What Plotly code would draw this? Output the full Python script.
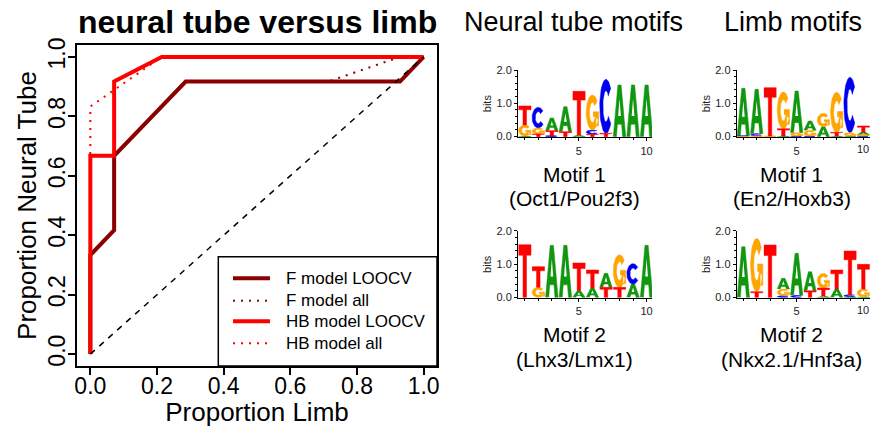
import numpy as np
import plotly.graph_objects as go

# ---------------- ROC data ----------------
f_loocv_x = [0, 0, 0.0714, 0.0714, 0.286, 0.929, 1.0]
f_loocv_y = [0, 0.333, 0.417, 0.667, 0.917, 0.917, 1.0]
f_all_x = [0, 0, 0.0714, 0.0714, 0.286, 0.714, 0.929, 1.0]
f_all_y = [0, 0.333, 0.417, 0.667, 0.917, 0.917, 1.0, 1.0]
hb_loocv_x = [0, 0, 0.0714, 0.0714, 0.214, 1.0]
hb_loocv_y = [0, 0.667, 0.667, 0.917, 1.0, 1.0]
hb_all_x = [0, 0, 0.214, 1.0]
hb_all_y = [0, 0.833, 1.0, 1.0]
chance = [0, 1]

x_ticks = [0, 0.2, 0.4, 0.6, 0.8, 1.0]
x_ticklabels = ["0.0", "0.2", "0.4", "0.6", "0.8", "1.0"]
legend_names = ["F model LOOCV", "F model all", "HB model LOOCV", "HB model all"]

# ---------------- motif logo data (bits per letter, positions 1..10) -------------
positions = list(range(1, 11))
nt1_A = [0.02, 0.0, 0.38, 0.75, 0.04, 0.0, 0.0, 1.55, 1.55, 1.55]
nt1_C = [0.0, 0.62, 0.03, 0.0, 0.0, 0.13, 1.62, 0.0, 0.0, 0.0]
nt1_G = [0.33, 0.18, 0.0, 0.0, 0.0, 1.05, 0.0, 0.0, 0.0, 0.0]
nt1_T = [0.57, 0.08, 0.15, 0.15, 1.32, 0.07, 0.10, 0.0, 0.0, 0.0]

limb1_A = [1.42, 1.33, 0.0, 0.02, 1.25, 0.28, 0.30, 0.02, 0.02, 0.08]
limb1_C = [0.02, 0.07, 0.0, 0.0, 0.02, 0.02, 0.0, 0.0, 1.66, 0.02]
limb1_G = [0.01, 0.02, 0.02, 1.10, 0.10, 0.17, 0.40, 1.20, 0.10, 0.04]
limb1_T = [0.0, 0.0, 1.45, 0.22, 0.0, 0.0, 0.0, 0.11, 0.0, 0.18]

nt2_A = [0.0, 0.0, 1.56, 1.56, 0.20, 0.28, 0.42, 0.0, 0.40, 1.56]
nt2_C = [0.0, 0.0, 0.0, 0.0, 0.0, 0.0, 0.0, 0.0, 0.61, 0.0]
nt2_G = [0.0, 0.30, 0.0, 0.0, 0.0, 0.0, 0.0, 0.98, 0.0, 0.0]
nt2_T = [1.58, 0.62, 0.0, 0.0, 0.83, 0.54, 0.30, 0.30, 0.0, 0.0]

limb2_A = [1.52, 0.0, 0.0, 0.32, 1.26, 0.57, 0.03, 0.25, 0.02, 0.02]
limb2_C = [0.0, 0.0, 0.0, 0.05, 0.06, 0.0, 0.0, 0.0, 0.06, 0.0]
limb2_G = [0.0, 1.60, 0.0, 0.20, 0.0, 0.0, 0.44, 0.0, 0.0, 0.23]
limb2_T = [0.0, 0.17, 1.57, 0.0, 0.0, 0.20, 0.25, 0.57, 1.31, 0.74]

motif_titles = ["Motif 1", "Motif 1", "Motif 2", "Motif 2"]
motif_names = ["(Oct1/Pou2f3)", "(En2/Hoxb3)", "(Lhx3/Lmx1)", "(Nkx2.1/Hnf3a)"]
column_titles = ["Neural tube motifs", "Limb motifs"]
logo_xtick_vals = [5, 10]
logo_xtick_text = ["5", "10"]

# ---------------- styling ----------------
W, H = 870, 427
FONT = "Liberation Sans, Arial, Helvetica, sans-serif"
DARKRED = "#8b0000"
RED = "#ff0000"
LETTER_COLORS = {"A": "#10960f", "C": "#0000f0", "G": "#ffa500", "T": "#ff0000"}


def px(x):
    return x / W


def py(y):
    return 1 - y / H


# ---------------- glyph outlines (unit box) ----------------
def arc(rx, ry, a0, a1, n=40):
    t = np.radians(np.linspace(a0, a1, n))
    return list(0.5 + rx * np.cos(t)), list(0.5 + ry * np.sin(t))


def glyph_unit(letter):
    polys = []
    holes = []
    if letter == "T":
        polys.append(([0, 1, 1, 0.64, 0.64, 0.36, 0.36, 0],
                      [1, 1, 0.80, 0.80, 0, 0, 0.80, 0.80]))
    elif letter == "A":
        polys.append(([0, 0.37, 0.63, 1, 0.75, 0.67, 0.33, 0.25],
                      [0, 1, 1, 0, 0, 0.24, 0.24, 0]))
        holes.append(([0.39, 0.61, 0.5], [0.40, 0.40, 0.74]))
    elif letter in ("C", "G"):
        end = 320 if letter == "C" else 335
        ox, oy = arc(0.5, 0.5, 40, end)
        ix, iy = arc(0.25, 0.29, end, 40)
        polys.append((ox + ix, oy + iy))
        if letter == "G":
            polys.append(([0.55, 1.0, 1.0, 0.78, 0.78, 0.55],
                          [0.52, 0.52, 0.12, 0.12, 0.38, 0.38]))
    return polys, holes


def logo_traces(A, C, G, T, xa, ya):
    data = {"A": A, "C": C, "G": G, "T": T}
    xs = {k: [] for k in "ACGT"}
    ys = {k: [] for k in "ACGT"}
    hx, hy = [], []
    w = 0.92
    for i, pos in enumerate(positions):
        stack = sorted("ACGT", key=lambda k: data[k][i])
        base = 0.0
        for k in stack:
            h = data[k][i]
            if h <= 0:
                continue
            polys, holes = glyph_unit(k)
            for (ux, uy) in polys:
                xs[k] += [pos - w / 2 + u * w for u in ux] + [None]
                ys[k] += [base + v * h for v in uy] + [None]
            for (ux, uy) in holes:
                hx += [pos - w / 2 + u * w for u in ux] + [None]
                hy += [base + v * h for v in uy] + [None]
            base += h
    traces = []
    for k in "ACGT":
        traces.append(go.Scatter(x=xs[k], y=ys[k], mode="lines", fill="toself",
                                 fillcolor=LETTER_COLORS[k],
                                 line=dict(color=LETTER_COLORS[k], width=0.5),
                                 hoverinfo="skip", showlegend=False, name=k,
                                 xaxis=xa, yaxis=ya))
    traces.append(go.Scatter(x=hx, y=hy, mode="lines", fill="toself",
                             fillcolor="white", line=dict(color="white", width=0),
                             hoverinfo="skip", showlegend=False,
                             xaxis=xa, yaxis=ya))
    return traces


fig = go.Figure()

# ROC lines
fig.add_trace(go.Scatter(x=f_loocv_x, y=f_loocv_y, mode="lines", name=legend_names[0],
                         line=dict(color=DARKRED, width=4), showlegend=False))
fig.add_trace(go.Scatter(x=f_all_x, y=f_all_y, mode="lines", name=legend_names[1],
                         line=dict(color=DARKRED, width=2, dash="2px,6px"), showlegend=False))
fig.add_trace(go.Scatter(x=hb_loocv_x, y=hb_loocv_y, mode="lines", name=legend_names[2],
                         line=dict(color=RED, width=4), showlegend=False))
fig.add_trace(go.Scatter(x=hb_all_x, y=hb_all_y, mode="lines", name=legend_names[3],
                         line=dict(color=RED, width=2, dash="2px,6px"), showlegend=False))
fig.add_trace(go.Scatter(x=chance, y=chance, mode="lines", name="chance",
                         line=dict(color="black", width=1.5, dash="6px,6px"), showlegend=False))

# logos
logo_sets = [
    (nt1_A, nt1_C, nt1_G, nt1_T, "x2", "y2"),
    (limb1_A, limb1_C, limb1_G, limb1_T, "x3", "y3"),
    (nt2_A, nt2_C, nt2_G, nt2_T, "x4", "y4"),
    (limb2_A, limb2_C, limb2_G, limb2_T, "x5", "y5"),
]
for A, C, G, T, xa, ya in logo_sets:
    for tr in logo_traces(A, C, G, T, xa, ya):
        fig.add_trace(tr)

axis_common = dict(showgrid=False, zeroline=False, showline=True, linecolor="black",
                   ticks="outside", tickcolor="black")

layout = dict(
    width=W, height=H, autosize=False,
    margin=dict(l=0, r=0, t=0, b=0),
    paper_bgcolor="white", plot_bgcolor="white",
    font=dict(family=FONT, color="black"),
    xaxis=dict(**axis_common, domain=[px(77), px(437)], range=[-0.04, 1.04],
               mirror=True, linewidth=1.5, tickwidth=1.5, ticklen=7,
               tickvals=x_ticks, ticktext=x_ticklabels, tickfont=dict(size=23),
               ticklabelstandoff=-8,
               title=dict(text="Proportion Limb", font=dict(size=26), standoff=4),
               automargin=False),
    yaxis=dict(**axis_common, domain=[py(366), py(45)], range=[-0.04, 1.04],
               mirror=True, linewidth=1.5, tickwidth=1.5, ticklen=7, tickangle=-90,
               tickvals=x_ticks, ticktext=x_ticklabels, tickfont=dict(size=23),
               ticklabelstandoff=-6,
               title=dict(text="Proportion Neural Tube", font=dict(size=26), standoff=0),
               automargin=False),
)

annotations = []

logo_x_domains = [[px(518), px(652)], [px(736.7), 1.0], [px(518), px(652)], [px(736.7), 1.0]]
logo_x_ranges = [[0.5, 10.4], [0.5, 10.5], [0.5, 10.4], [0.5, 10.5]]
logo_y_domains = [[py(137.3), py(70)], [py(137.3), py(70)], [py(298), py(230.7)], [py(298), py(230.7)]]
logo_base_px = [137.3, 137.3, 298, 298]
at_right_edge = [False, True, False, True]
minor_y = [0.2, 0.4, 0.6, 0.8, 1.2, 1.4, 1.6, 1.8]
for i in range(4):
    n = i + 2
    # labels of ticks touching the page edge are written as annotations so they are not culled
    tt = [t if not (at_right_edge[i] and v == 10) else "" for v, t in zip(logo_xtick_vals, logo_xtick_text)]
    layout[f"xaxis{n}"] = dict(**axis_common, domain=logo_x_domains[i], range=logo_x_ranges[i],
                               anchor=f"y{n}", linewidth=1, tickwidth=1, ticklen=3,
                               tickvals=logo_xtick_vals, ticktext=tt,
                               tickfont=dict(size=11, color="#222"),
                               minor=dict(tickvals=positions, ticklen=2, ticks="outside",
                                          tickcolor="black"),
                               automargin=False)
    layout[f"yaxis{n}"] = dict(**axis_common, domain=logo_y_domains[i], range=[-0.02, 2.0],
                               anchor=f"x{n}", linewidth=1, tickwidth=1, ticklen=3,
                               tickvals=[0, 1, 2], ticktext=["0.0", "1.0", "2.0"],
                               tickfont=dict(size=11, color="#222"),
                               minor=dict(tickvals=minor_y, ticklen=2, ticks="outside",
                                          tickcolor="black"),
                               title=dict(text="bits", font=dict(size=11, color="#222"), standoff=2),
                               automargin=False)
    if at_right_edge[i]:
        x0, x1 = logo_x_domains[i]
        r0, r1 = logo_x_ranges[i]
        xpaper = x0 + (logo_xtick_vals[1] - r0) / (r1 - r0) * (x1 - x0)
        annotations.append(dict(text=logo_xtick_text[1], x=xpaper, y=py(logo_base_px[i] + 4),
                                xref="paper", yref="paper", showarrow=False,
                                font=dict(size=11, color="#222"), xanchor="center",
                                yanchor="top"))

annotations.append(dict(text="<b>neural tube versus limb</b>", x=px(257), y=py(22),
                        xref="paper", yref="paper", showarrow=False,
                        font=dict(size=32), xanchor="center", yanchor="middle"))
annotations.append(dict(text=column_titles[0], x=px(573), y=py(22), xref="paper", yref="paper",
                        showarrow=False, font=dict(size=27), xanchor="center", yanchor="middle"))
annotations.append(dict(text=column_titles[1], x=px(793), y=py(22), xref="paper", yref="paper",
                        showarrow=False, font=dict(size=27), xanchor="center", yanchor="middle"))
label_cx = [574, 791.5, 574, 791.5]
label_y1 = [174, 174, 334, 334]
label_y2 = [198.5, 198.5, 359, 359]
for i in range(4):
    annotations.append(dict(text=motif_titles[i], x=px(label_cx[i]), y=py(label_y1[i]),
                            xref="paper", yref="paper", showarrow=False, font=dict(size=21),
                            xanchor="center", yanchor="middle"))
    annotations.append(dict(text=motif_names[i], x=px(label_cx[i]), y=py(label_y2[i]),
                            xref="paper", yref="paper", showarrow=False, font=dict(size=21),
                            xanchor="center", yanchor="middle"))

# legend (drawn manually to match R layout)
shapes = [dict(type="rect", xref="paper", yref="paper", x0=px(218.3), x1=px(437),
               y0=py(366), y1=py(256.7), line=dict(color="black", width=1.5),
               fillcolor="white", layer="above")]
leg_rows = [278.3, 300.7, 321.3, 343.3]
leg_styles = [(DARKRED, 4, "solid"), (DARKRED, 2, "2px,6px"), (RED, 4, "solid"), (RED, 2, "2px,6px")]
for name, yy, (col, wid, dash) in zip(legend_names, leg_rows, leg_styles):
    shapes.append(dict(type="line", xref="paper", yref="paper", x0=px(233), x1=px(270),
                       y0=py(yy), y1=py(yy), line=dict(color=col, width=wid, dash=dash),
                       layer="above"))
    annotations.append(dict(text=name, x=px(284), y=py(yy), xref="paper", yref="paper",
                            showarrow=False, font=dict(size=17), xanchor="left",
                            yanchor="middle"))

layout["annotations"] = annotations
layout["shapes"] = shapes
fig.update_layout(**layout)

fig.write_html("out.html", config={"displayModeBar": False},
               post_script="document.body.style.margin='0';document.body.style.overflow='hidden';")
